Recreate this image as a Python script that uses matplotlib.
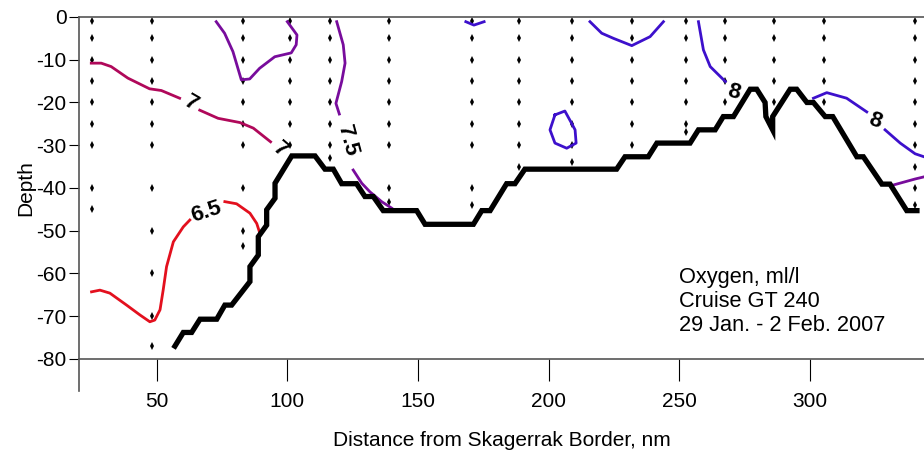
import numpy as np
import matplotlib
matplotlib.use("Agg")
import matplotlib.pyplot as plt

plt.rcParams["axes.unicode_minus"] = False

# --- Data (distance nm, depth m) ---
# bottom profile
bottom_x = [57.0, 60.2, 63.4, 66.6, 73.0, 76.1, 78.7, 85.7, 85.7, 88.9, 88.9, 92.1, 92.1,
            95.3, 95.3, 101.7, 110.6, 114.4, 117.6, 120.8, 126.5, 129.7, 132.9, 136.7,
            149.5, 152.7, 171.2, 174.4, 177.6, 183.9, 187.1, 190.9, 226.0, 229.2, 238.1,
            241.4, 254.1, 257.3, 263.7, 266.8, 270.7, 277.1, 279.6, 282.8, 283.1, 285.7,
            285.7, 292.4, 294.9, 298.8, 301.3, 305.8, 308.7, 317.9, 320.4, 327.5, 330.6,
            337.0, 340.9]
bottom_y = [-77.0, -73.8, -73.8, -70.7, -70.7, -67.4, -67.4, -61.9, -58.4, -55.7, -51.4,
            -48.7, -45.1, -42.4, -38.9, -32.5, -32.5, -35.6, -35.6, -39.0, -39.0, -42.0,
            -42.0, -45.3, -45.3, -48.5, -48.5, -45.3, -45.3, -39.0, -39.0, -35.6, -35.6,
            -32.7, -32.7, -29.5, -29.5, -26.4, -26.4, -23.3, -23.3, -16.9, -16.9, -20.0,
            -23.3, -26.4, -23.3, -16.9, -16.9, -20.0, -20.0, -23.3, -23.3, -32.7, -32.7,
            -39.1, -39.1, -45.3, -45.3]

# sampling stations: position and bottle depths
station_x = [25.2, 48.2, 83.0, 101.0, 116.3, 138.9, 170.7, 188.7, 209.0, 232.0, 252.6,
             267.6, 286.3, 305.5, 340.3]
station_depths = [
    [1, 5, 10, 15, 20, 25, 30, 40, 45],
    [1, 5, 10, 15, 20, 25, 30, 40, 50, 60, 70, 77],
    [1, 5, 10, 15, 20, 25, 30, 40, 50, 53.5],
    [1, 5, 10, 15, 20, 25, 30],
    [1, 5, 10, 15, 20, 25, 30, 33],
    [1, 5, 10, 15, 20, 25, 30, 40, 43.3],
    [1, 5, 10, 15, 20, 25, 30, 40, 44],
    [1, 5, 10, 15, 20, 25, 30, 35],
    [1, 5, 10, 15, 20, 25, 30, 34],
    [1, 5, 10, 15, 20, 25, 30],
    [1, 5, 10, 15, 20, 25, 27],
    [1, 5, 10, 15, 20],
    [1, 5, 10, 15, 20],
    [1, 5, 10, 15, 20],
    [1, 5, 10, 15, 20, 25, 30, 35, 40, 44],
]

# oxygen isolines (NaN separates pieces)
iso65_x = [25.1, 28.3, 32.1, 38.5, 43.6, 47.4, 49.3, 51.3, 52.5, 53.8, 56.4, 60.2, 62.7,
           np.nan, 76.1, 80.6, 85.7, 88.3, 89.3]
iso65_y = [-64.3, -63.9, -64.6, -67.4, -69.7, -71.3, -70.9, -68.5, -63.9, -58.4, -52.6,
           -49.1, -47.5, np.nan, -43.2, -43.7, -45.9, -48.3, -50.2]

iso70_x = [25.0, 28.8, 32.6, 39.0, 47.3, 51.8, 58.8, np.nan, 66.5, 73.5, 81.9, 87.0, 93.6]
iso70_y = [-10.8, -10.8, -11.6, -14.3, -16.8, -17.2, -19.0, np.nan, -21.8, -23.7, -24.7,
           -26.0, -29.2]

iso75_x = [72.8, 76.0, 79.2, 82.4, 85.6, 89.4, 95.2, 101.5, 103.4, 103.7, 100.0, np.nan,
           118.9, 121.4, 122.1, 120.8, 118.6, 119.9, np.nan,
           125.2, 128.5, 131.6, 136.1, 139.9, np.nan,
           331.9, 340.2, 343.6]
iso75_y = [-1.1, -3.8, -8.1, -14.7, -14.5, -12.0, -9.3, -8.4, -6.5, -4.2, -1.1, np.nan,
           -1.1, -6.5, -10.8, -15.1, -20.2, -22.7, np.nan,
           -35.8, -38.9, -40.9, -43.2, -44.7, np.nan,
           -39.3, -37.9, -37.4]

iso80_x = [168.3, 171.4, 175.3, np.nan,
           215.8, 220.3, 224.8, 231.8, 238.8, 243.9, np.nan,
           257.3, 259.2, 261.8, 267.6, np.nan,
           301.3, 306.4, 314.0, 321.7, np.nan, 328.7, 334.5, 340.2, 343.6, np.nan,
           202.4, 206.2, 208.8, 210.1, 210.5, 206.9, 202.4, 200.5, 202.4]
iso80_y = [-1.1, -1.9, -1.1, np.nan,
           -1.1, -3.8, -5.0, -6.7, -4.6, -1.1, np.nan,
           -1.1, -7.7, -11.6, -15.1, np.nan,
           -19.0, -17.7, -19.0, -22.2, np.nan, -26.4, -29.5, -32.0, -32.7, np.nan,
           -22.9, -22.0, -24.9, -26.4, -29.5, -30.7, -29.5, -26.4, -22.9]

# isoline labels: text, x, y, rotation
label_text = ["6.5", "7", "7", "7.5", "8", "8"]
label_x = [69.1, 63.1, 97.2, 122.8, 270.6, 325.0]
label_y = [-45.6, -20.2, -31.0, -29.0, -17.6, -24.3]
label_rot = [18, -30, -40, -75, -15, -20]

# --- Plotting ---
narrow = ["Liberation Sans Narrow", "Liberation Sans", "DejaVu Sans"]
fig = plt.figure(figsize=(9.24, 4.68), dpi=100)
ax = fig.add_axes([0.0855, 0.233, 0.9145, 0.7307])

for sx, depths in zip(station_x, station_depths):
    ax.plot([sx] * len(depths), [-d for d in depths], linestyle="none", marker="d",
            markersize=3.6, color="black", markeredgewidth=0)

ax.plot(iso65_x, iso65_y, color="#e3101e", lw=2.0)
ax.plot(iso70_x, iso70_y, color="#b0085a", lw=2.0)
ax.plot(iso75_x, iso75_y, color="#780c9c", lw=2.0)
ax.plot(iso80_x, iso80_y, color="#3d10cc", lw=2.0)

for t, lx, ly, r in zip(label_text, label_x, label_y, label_rot):
    ax.text(lx, ly, t, rotation=r, ha="center", va="center", fontsize=16,
            family=narrow, weight="bold", rotation_mode="anchor")

ax.plot(bottom_x, bottom_y, color="black", lw=3.8, solid_joinstyle="miter")

ax.text(250.0, -58.6, "Oxygen, ml/l\nCruise GT 240\n29 Jan. - 2 Feb. 2007",
        ha="left", va="top", fontsize=15.7, family=["Liberation Sans", "DejaVu Sans"],
        linespacing=1.17)

ax.set_xlim(20.3, 343.6)
ax.set_ylim(-80, 0)
ax.set_xticks([50, 100, 150, 200, 250, 300])
ax.set_yticks(range(0, -90, -10))
ax.tick_params(axis="x", length=16, width=0.8, pad=8, labelsize=15)
ax.tick_params(axis="y", length=7, width=0.8, pad=2, labelsize=15)
for lab in ax.get_xticklabels() + ax.get_yticklabels():
    lab.set_family(narrow)

ax.spines["right"].set_visible(False)
for s in ["left", "bottom", "top"]:
    ax.spines[s].set_color("#555555")
    ax.spines[s].set_linewidth(1.2)
ax.spines["left"].set_bounds(-87.5, 0)

ax.set_xlabel("Distance from Skagerrak Border, nm", fontsize=15, family=narrow, labelpad=14)
ax.set_ylabel("Depth", fontsize=15, family=narrow, labelpad=1)

plt.savefig("out.png", dpi=100)
